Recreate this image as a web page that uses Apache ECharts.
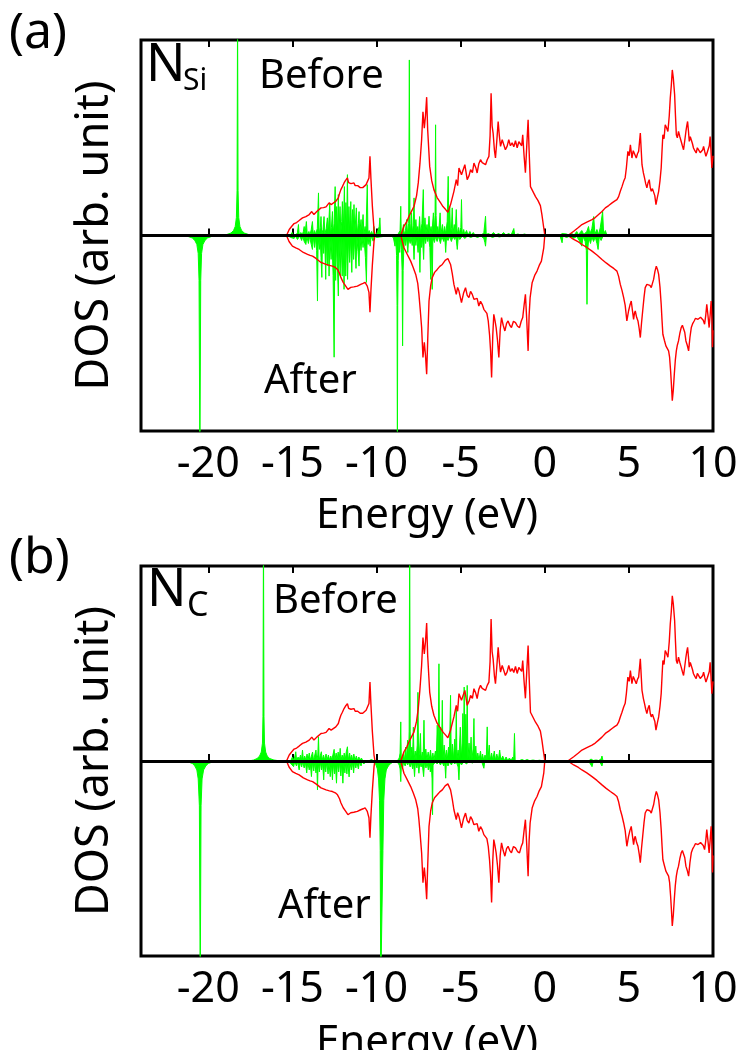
<!DOCTYPE html>
<html>
<head>
<meta charset="utf-8">
<script src="https://cdn.jsdelivr.net/npm/echarts@6/dist/echarts.min.js"></script>
<style>
html,body{margin:0;padding:0;background:#fff;}
#c{width:737px;height:1050px;}
</style>
</head>
<body>
<div id="c"></div>
<script>
// ---------------- DATA ----------------
const xTickValues = [-20, -15, -10, -5, 0, 5, 10];
const xRange = [-24, 10];
const yRange = [-196, 196];

// Host (SiC) DOS, "Before" side (upward), [energy eV, DOS arb.]
const hostBefore = [
[-15.35,0],[-15.19,6],[-15.05,9],[-14.9,12],[-14.75,13],[-14.6,15],[-14.4,17.7],[-14.2,19],[-14.0,21],[-13.85,24],[-13.72,21],[-13.65,22],[-13.55,24],[-13.45,26],[-13.3,27.7],[-13.15,28],[-13.0,28.7],[-12.9,30],[-12.82,32.7],[-12.7,31],[-12.6,33],[-12.42,34.3],[-12.35,36],[-12.27,37.7],[-12.2,42],[-12.12,46],[-12.03,49],[-11.93,52.7],[-11.85,55],[-11.8,56],[-11.73,57.7],[-11.66,53],[-11.6,54.3],[-11.52,52],[-11.45,53.5],[-11.34,52.7],[-11.27,50],[-11.2,52],[-11.12,50],[-11.04,51],[-10.97,48],[-10.9,49.5],[-10.82,48],[-10.74,49.3],[-10.62,51],[-10.55,52.7],[-10.45,57.7],[-10.39,79.3],[-10.33,56],[-10.25,30],[-10.15,6],[-10.09,0],
[-9.0,0],[-8.56,0],[-8.37,9.3],[-8.2,14],[-8.07,19.3],[-7.9,25],[-7.77,29.3],[-7.62,40],[-7.52,52.7],[-7.42,72],[-7.32,96],[-7.24,124],[-7.16,107.7],[-7.09,120],[-7.02,138.7],[-6.96,106],[-6.84,69.3],[-6.72,55],[-6.59,46],[-6.4,38],[-6.19,32.7],[-6.05,29],[-5.89,26],[-5.76,23.3],[-5.6,31],[-5.4,44.3],[-5.26,56],[-5.18,50],[-5.1,67.7],[-4.95,61],[-4.85,66],[-4.75,71],[-4.61,56],[-4.5,60],[-4.41,66],[-4.3,63],[-4.21,72.7],[-4.1,68],[-4.02,62.7],[-3.92,72],[-3.82,76],[-3.72,73],[-3.62,75],[-3.52,71],[-3.42,76],[-3.32,79.3],[-3.25,100],[-3.19,142.7],[-3.13,110],[-3.07,102.7],[-2.99,85],[-2.93,77.7],[-2.85,95],[-2.77,114.3],[-2.7,100],[-2.63,89.3],[-2.53,96],[-2.43,94.3],[-2.34,86],[-2.24,89.3],[-2.14,96],[-2.04,90],[-1.94,93],[-1.84,89],[-1.74,95],[-1.64,88],[-1.54,94],[-1.44,96],[-1.37,90],[-1.31,101],[-1.23,80],[-1.15,63],[-1.07,90],[-0.99,116],[-0.93,85],[-0.85,49],[-0.75,47.7],[-0.55,39],[-0.4,35],[-0.26,30],[-0.17,21],[-0.08,10],[-0.02,3],[0,0],
[1.37,0],[1.72,4.3],[2.0,8],[2.21,11],[2.5,13.5],[2.81,16],[3.0,18],[3.2,21],[3.4,24],[3.6,27.7],[3.8,30],[4.0,32.7],[4.15,34.5],[4.29,36],[4.39,39],[4.49,44.3],[4.59,49],[4.69,54.3],[4.78,58],[4.85,67.7],[4.94,84.3],[5.02,80],[5.09,91],[5.18,77.7],[5.26,85],[5.34,86],[5.44,77.7],[5.51,82],[5.58,84.3],[5.68,102.7],[5.78,71],[5.86,63],[5.93,57.7],[6.0,52],[6.07,47.7],[6.14,53],[6.21,56],[6.27,48],[6.33,44.3],[6.4,47],[6.47,49],[6.54,40],[6.61,31],[6.69,38],[6.77,44.3],[6.85,55],[6.92,67.7],[6.97,85],[7.02,101],[7.09,97],[7.16,111],[7.24,108],[7.32,104.3],[7.4,120],[7.46,137.7],[7.52,150],[7.58,166],[7.64,158],[7.72,141],[7.77,120],[7.82,101],[7.88,98],[7.95,104.3],[8.03,99],[8.11,94.3],[8.18,90],[8.25,86],[8.32,95],[8.39,104.3],[8.44,110],[8.49,114.3],[8.54,105],[8.59,94.3],[8.65,99],[8.71,97.7],[8.78,92],[8.84,87.7],[8.92,85],[9.0,82.7],[9.07,88],[9.14,86],[9.24,83],[9.34,81],[9.39,86],[9.44,89.3],[9.51,84],[9.58,79.3],[9.65,83],[9.73,81],[9.78,90],[9.83,99.3],[9.88,85],[9.93,67.7],[10,80]
];

// Host (SiC) DOS, "After" side (plotted downward)
const hostAfter = [
[-15.35,0],[-15.2,-6],[-15.0,-10.7],[-14.8,-12.5],[-14.6,-14],[-14.35,-17],[-14.1,-19],[-13.95,-20],[-13.8,-20.7],[-13.6,-23],[-13.45,-25],[-13.3,-27],[-13.15,-28],[-13.0,-29],[-12.8,-30],[-12.62,-30.7],[-12.45,-32],[-12.32,-34],[-12.2,-38],[-12.12,-42],[-11.98,-47],[-11.83,-50.7],[-11.7,-54],[-11.63,-55.7],[-11.53,-52],[-11.35,-51.5],[-11.14,-50.7],[-10.94,-49],[-10.8,-48],[-10.68,-47],[-10.55,-50.7],[-10.45,-57],[-10.39,-77],[-10.33,-54],[-10.25,-30],[-10.15,-6],[-10.1,0],
[-9.0,0],[-8.56,0],[-8.37,-12.3],[-8.17,-19],[-7.97,-25.7],[-7.82,-32],[-7.67,-39],[-7.55,-48],[-7.48,-59],[-7.4,-75],[-7.32,-92.3],[-7.24,-122.3],[-7.16,-107],[-7.09,-120],[-7.02,-139],[-6.96,-105.7],[-6.88,-65.7],[-6.78,-50],[-6.69,-42.3],[-6.55,-37],[-6.39,-34],[-6.24,-31],[-6.09,-29],[-5.92,-25],[-5.76,-23],[-5.6,-29],[-5.5,-38],[-5.4,-49],[-5.26,-59],[-5.18,-52],[-5.1,-55.7],[-4.95,-67.3],[-4.83,-58],[-4.71,-52.3],[-4.61,-60],[-4.51,-62.3],[-4.41,-56],[-4.31,-59],[-4.21,-64],[-4.11,-65.7],[-4.02,-63],[-3.92,-70.7],[-3.82,-66],[-3.72,-69],[-3.62,-74],[-3.52,-72.3],[-3.44,-78],[-3.36,-85.7],[-3.28,-100],[-3.22,-115.7],[-3.16,-142.3],[-3.09,-100],[-3.03,-79],[-2.96,-85],[-2.89,-92.3],[-2.81,-105],[-2.73,-122.3],[-2.65,-95],[-2.57,-82.3],[-2.47,-90],[-2.37,-95.7],[-2.27,-88],[-2.18,-85.7],[-2.08,-90],[-1.98,-92.3],[-1.86,-86],[-1.74,-87.3],[-1.62,-91],[-1.5,-92.3],[-1.4,-86],[-1.31,-82.3],[-1.23,-70],[-1.15,-59],[-1.07,-85],[-0.99,-115.7],[-0.93,-80],[-0.87,-62.3],[-0.75,-47.3],[-0.6,-40],[-0.46,-35.7],[-0.33,-30],[-0.2,-25.7],[-0.06,-12.3],[0,0],
[1.37,0],[1.72,-4],[2.0,-6.5],[2.21,-9],[2.5,-12],[2.81,-15.7],[3.1,-19.5],[3.4,-24],[3.65,-27.5],[3.9,-30.7],[4.1,-33],[4.29,-35.7],[4.39,-41],[4.49,-49],[4.59,-55],[4.69,-62.3],[4.78,-70],[4.88,-85.7],[4.98,-75.7],[5.06,-70],[5.14,-65.7],[5.21,-75],[5.28,-84],[5.33,-78],[5.38,-75.7],[5.46,-82],[5.54,-85.7],[5.61,-93],[5.68,-102.3],[5.75,-88],[5.82,-75.7],[5.9,-62],[5.97,-52.3],[6.07,-49],[6.17,-47.3],[6.25,-50],[6.33,-52.3],[6.4,-48],[6.47,-44],[6.55,-36],[6.63,-30.7],[6.7,-34],[6.77,-39],[6.85,-52],[6.92,-69],[6.97,-85],[7.02,-99],[7.11,-105],[7.2,-110.7],[7.28,-112],[7.36,-115.7],[7.42,-122],[7.48,-135.7],[7.53,-150],[7.58,-165.7],[7.64,-155],[7.7,-139],[7.76,-125],[7.82,-115.7],[7.88,-110],[7.95,-105.7],[8.03,-98],[8.11,-92.3],[8.18,-90],[8.25,-89],[8.32,-97],[8.39,-105.7],[8.47,-110],[8.55,-115.7],[8.63,-102],[8.71,-92.3],[8.8,-88],[8.88,-85.7],[8.96,-83],[9.04,-82.3],[9.11,-84],[9.18,-85.7],[9.26,-82],[9.34,-80.7],[9.42,-85],[9.5,-89],[9.57,-80],[9.63,-69],[9.7,-80],[9.77,-92.3],[9.83,-80],[9.89,-65.7],[9.94,-85],[9.97,-112],[10,-95]
];

// N_Si PDOS before (upward)
const nSiBefore = [
[-24,0],[-19.3,0],[-18.9,1],[-18.65,2.5],[-18.5,5],[-18.4,9],[-18.33,18],[-18.29,45],[-18.26,230],[-18.23,45],[-18.19,18],[-18.12,9],[-18.02,5],[-17.86,2.5],[-17.6,1],[-17.2,0],
[-15.3,0],[-15.2,1.5],[-15.12,0.3],[-15.02,3],[-14.95,0.5],[-14.85,2],[-14.78,0.5],[-14.7,3],[-14.64,11],[-14.6,0.5],[-14.5,3],[-14.42,0.5],[-14.35,4],[-14.3,9],[-14.26,0.5],[-14.17,14],[-14.12,1],[-14.02,4],[-13.96,0.5],[-13.88,6],[-13.81,14],[-13.76,1],[-13.68,5],[-13.62,1],[-13.52,7],[-13.45,42.7],[-13.41,1],[-13.34,8],[-13.3,19],[-13.26,1],[-13.18,6],[-13.12,19],[-13.07,1.5],[-12.99,7],[-12.92,17.7],[-12.87,1.5],[-12.78,32.7],[-12.74,2],[-12.68,8],[-12.62,24],[-12.58,2],[-12.52,12],[-12.46,49],[-12.42,2],[-12.37,29],[-12.32,3],[-12.27,41],[-12.23,2],[-12.17,29],[-12.12,3],[-12.07,14],[-12.03,34],[-11.98,2],[-11.91,49],[-11.87,3],[-11.82,33],[-11.78,3],[-11.73,61],[-11.69,2],[-11.64,29],[-11.6,3],[-11.53,34],[-11.49,2],[-11.43,26],[-11.39,2],[-11.34,31],[-11.29,2],[-11.2,27.7],[-11.15,1.5],[-11.08,12],[-11.04,24],[-11.0,1.5],[-10.92,16],[-10.88,1.5],[-10.8,21],[-10.75,1],[-10.68,9],[-10.63,1.5],[-10.55,51],[-10.51,1.5],[-10.44,5],[-10.38,1],[-10.3,4],[-10.22,0.5],[-10.15,9],[-10.1,0.5],[-9.98,2],[-9.9,0.3],[-9.84,9],[-9.8,17.7],[-9.76,0.5],[-9.6,0.3],[-9.45,0],
[-8.9,0],[-8.75,0.5],[-8.65,2],[-8.6,5],[-8.56,29.3],[-8.53,1.5],[-8.45,4],[-8.4,11],[-8.36,1],[-8.28,5],[-8.21,16],[-8.16,1.5],[-8.09,12],[-8.05,176],[-8.01,12],[-7.97,2],[-7.92,22.7],[-7.88,2],[-7.82,10],[-7.77,37.7],[-7.73,2],[-7.66,16],[-7.61,2],[-7.55,9],[-7.5,1.5],[-7.44,19],[-7.39,2],[-7.3,12],[-7.22,46],[-7.18,2],[-7.12,17.7],[-7.07,1.5],[-7.0,11],[-6.95,1.5],[-6.88,19.3],[-6.83,1.5],[-6.76,9],[-6.71,1.5],[-6.62,22.7],[-6.57,3],[-6.52,20],[-6.49,111],[-6.46,20],[-6.42,2],[-6.36,9],[-6.31,1.5],[-6.22,22.7],[-6.17,1.5],[-6.08,11],[-6.03,1.5],[-5.95,9],[-5.89,1.5],[-5.8,14],[-5.74,59.3],[-5.7,4],[-5.65,29],[-5.6,1.5],[-5.55,7],[-5.5,27.7],[-5.46,1.5],[-5.38,11],[-5.33,1.5],[-5.26,26],[-5.21,1],[-5.12,8],[-5.06,1],[-4.99,8],[-4.95,36],[-4.91,1],[-4.82,6],[-4.76,1],[-4.65,5],[-4.56,0.5],[-4.45,4],[-4.36,0.5],[-4.25,3],[-4.15,0.5],[-4.05,2],[-3.95,0.5],[-3.85,2],[-3.75,0.5],[-3.62,3],[-3.56,5],[-3.52,19.3],[-3.48,1],[-3.35,2],[-3.2,0.5],[-3.05,3],[-2.9,0.5],[-2.75,2],[-2.6,0.5],[-2.45,3],[-2.3,0.5],[-2.15,2],[-2.0,0.5],[-1.9,2],[-1.84,7],[-1.79,0.5],[-1.6,1.5],[-1.4,0.5],[-1.2,1.5],[-1.0,0.3],[-0.7,0.8],[-0.4,0],
[0.9,0],[1.03,2],[1.08,0.3],[1.3,1.5],[1.45,0.3],[1.6,2],[1.75,0.5],[1.9,4],[2.0,0.8],[2.2,5],[2.32,1],[2.5,4],[2.6,9],[2.68,1.5],[2.8,7],[2.91,19],[2.98,1.5],[3.1,6],[3.2,1],[3.3,8],[3.44,24],[3.5,1.5],[3.6,5],[3.68,1],[3.75,2],[3.85,0],[10,0]
];

// N_Si PDOS after (downward)
const nSiAfter = [
[-24,0],[-21.6,0],[-21.2,-1],[-20.95,-2.5],[-20.8,-5],[-20.68,-9],[-20.6,-18],[-20.55,-45],[-20.5,-230],[-20.45,-45],[-20.4,-18],[-20.32,-9],[-20.2,-5],[-20.05,-2.5],[-19.8,-1],[-19.4,0],
[-15.3,0],[-15.2,-0.5],[-15.1,-2],[-15.02,-0.5],[-14.9,-3],[-14.82,-0.5],[-14.7,-4],[-14.62,-6],[-14.56,-0.5],[-14.45,-5],[-14.39,-1],[-14.3,-6],[-14.2,-9],[-14.14,-1],[-14.05,-8],[-13.98,-1],[-13.88,-9],[-13.81,-14],[-13.76,-1.5],[-13.68,-12],[-13.63,-1.5],[-13.56,-15],[-13.51,-65.7],[-13.47,-2],[-13.4,-14],[-13.35,-2],[-13.3,-22],[-13.25,-42],[-13.21,-2],[-13.14,-18],[-13.08,-2],[-13.02,-44],[-12.98,-3],[-12.92,-30],[-12.87,-3],[-12.82,-40.7],[-12.77,-3],[-12.7,-24],[-12.65,-3],[-12.58,-40],[-12.52,-122],[-12.48,-4],[-12.43,-45],[-12.38,-4],[-12.32,-34],[-12.27,-60.7],[-12.23,-4],[-12.16,-40],[-12.11,-3],[-12.04,-40.7],[-11.99,-3],[-11.93,-54],[-11.88,-4],[-11.83,-40.7],[-11.78,-3],[-11.72,-44],[-11.67,-3],[-11.6,-27],[-11.55,-2],[-11.47,-37],[-11.42,-2],[-11.36,-24],[-11.31,-2],[-11.22,-33],[-11.17,-1.5],[-11.1,-16],[-11.04,-30.7],[-10.99,-1.5],[-10.92,-15],[-10.87,-1],[-10.8,-12],[-10.75,-1],[-10.66,-22],[-10.6,-47],[-10.56,-1.5],[-10.5,-9],[-10.45,-1],[-10.38,-10.7],[-10.32,-0.5],[-10.2,-5.7],[-10.14,-0.5],[-10.0,-2],[-9.9,0],
[-9.2,0],[-9.1,-0.5],[-9.0,-2],[-8.95,-1],[-8.9,-10.7],[-8.86,-2],[-8.81,-20],[-8.78,-70],[-8.76,-230],[-8.74,-70],[-8.71,-25],[-8.67,-4],[-8.62,-17],[-8.58,-3],[-8.52,-14],[-8.48,-35],[-8.45,-110.7],[-8.42,-35],[-8.38,-14],[-8.33,-2],[-8.27,-10],[-8.21,-1.5],[-8.14,-17],[-8.09,-1.5],[-8.0,-8],[-7.95,-1],[-7.88,-10],[-7.83,-1.5],[-7.77,-24],[-7.72,-1.5],[-7.66,-10],[-7.61,-1],[-7.53,-17],[-7.48,-2],[-7.42,-37],[-7.38,-2],[-7.32,-12],[-7.27,-1],[-7.2,-24],[-7.16,-1.5],[-7.08,-8],[-7.03,-1],[-6.96,-6],[-6.91,-1],[-6.83,-12],[-6.78,-44],[-6.74,-4],[-6.69,-54],[-6.65,-2],[-6.56,-7],[-6.49,-1],[-6.4,-6],[-6.32,-1],[-6.2,-8],[-6.12,-1],[-6.0,-6],[-5.94,-1.5],[-5.89,-17],[-5.84,-1.5],[-5.75,-5],[-5.66,-1],[-5.55,-6],[-5.46,-1],[-5.35,-4],[-5.28,-1],[-5.2,-14],[-5.14,-1],[-5.05,-4],[-4.9,-0.5],[-4.75,-3],[-4.6,-0.5],[-4.4,-2],[-4.2,-0.5],[-4.0,-2],[-3.8,-0.5],[-3.62,-3],[-3.56,-7],[-3.52,-10.7],[-3.47,-0.5],[-3.3,-0.5],[-3.1,-2],[-2.9,-0.5],[-2.7,-1.5],[-2.4,-0.3],[-2.0,-0.8],[-1.5,0],
[0.9,0],[1.03,-7.3],[1.08,-0.5],[1.3,-2],[1.5,-0.5],[1.7,-3],[1.9,-1],[2.05,-5],[2.2,-10.7],[2.28,-1],[2.4,-6],[2.47,-15],[2.51,-69],[2.55,-15],[2.62,-2],[2.72,-8],[2.8,-1.5],[2.9,-6],[3.0,-1.5],[3.1,-8],[3.17,-14],[3.24,-1.5],[3.35,-5],[3.45,-1],[3.55,-3],[3.65,-0.5],[3.8,0],[10,0]
];

// N_C PDOS before (upward)
const nCBefore = [
[-24,0],[-17.6,0],[-17.3,1],[-17.1,2.5],[-16.95,5],[-16.85,9],[-16.78,18],[-16.75,45],[-16.72,230],[-16.69,45],[-16.66,18],[-16.59,9],[-16.5,5],[-16.35,2.5],[-16.1,1],[-15.7,0],
[-15.3,0],[-15.2,1.5],[-15.1,0.3],[-15.0,4],[-14.92,0.5],[-14.85,5],[-14.8,9.3],[-14.75,0.5],[-14.66,4],[-14.6,0.8],[-14.52,6],[-14.46,0.8],[-14.4,11],[-14.35,0.8],[-14.27,5],[-14.2,0.8],[-14.13,7],[-14.07,0.8],[-14.0,8],[-13.94,0.8],[-13.87,5],[-13.8,9],[-13.75,0.8],[-13.67,6],[-13.6,11],[-13.55,0.8],[-13.49,6],[-13.45,24.3],[-13.41,0.8],[-13.35,5],[-13.28,9.3],[-13.23,0.8],[-13.15,6],[-13.09,1],[-13.0,7],[-12.94,1],[-12.86,6],[-12.8,1],[-12.72,5],[-12.66,1],[-12.58,7],[-12.52,11.7],[-12.47,1],[-12.4,8],[-12.34,1],[-12.28,9],[-12.22,1],[-12.16,12.7],[-12.11,1],[-12.04,6],[-11.98,1],[-11.92,8],[-11.86,1],[-11.8,9],[-11.73,14.3],[-11.68,1],[-11.6,8],[-11.54,1],[-11.48,6],[-11.42,0.8],[-11.35,7],[-11.28,0.8],[-11.2,5],[-11.13,0.5],[-11.05,4],[-10.98,0.5],[-10.9,3],[-10.82,0.5],[-10.74,2],[-10.66,0.5],[-10.55,1.5],[-10.45,0.3],[-10.3,1.5],[-10.15,0],
[-8.9,0],[-8.75,0.5],[-8.65,3],[-8.6,8],[-8.56,39.3],[-8.53,2],[-8.46,1],[-8.4,7],[-8.34,1],[-8.27,14],[-8.22,1.5],[-8.15,21],[-8.1,2],[-8.06,30],[-8.03,240],[-8.0,30],[-7.96,2],[-7.9,14],[-7.86,1.5],[-7.81,34],[-7.77,1.5],[-7.7,10],[-7.65,1],[-7.58,16],[-7.54,69],[-7.5,2],[-7.44,10],[-7.39,27.7],[-7.35,1.5],[-7.28,9],[-7.23,1.5],[-7.18,41],[-7.14,1.5],[-7.07,12],[-7.01,1],[-6.93,9],[-6.87,1],[-6.79,11],[-6.73,1],[-6.65,8],[-6.59,1],[-6.5,10],[-6.45,1.5],[-6.39,36],[-6.34,5],[-6.29,97.7],[-6.25,5],[-6.19,34],[-6.14,2],[-6.09,61],[-6.05,2],[-5.98,16],[-5.93,1.5],[-5.85,11],[-5.8,1],[-5.72,14],[-5.67,2],[-5.6,66],[-5.56,2],[-5.49,17],[-5.43,1.5],[-5.35,22],[-5.3,3],[-5.26,52.7],[-5.22,2],[-5.15,11],[-5.1,1.5],[-5.02,34],[-4.97,2],[-4.91,18],[-4.87,47.7],[-4.83,5],[-4.79,74.3],[-4.75,6],[-4.69,47],[-4.65,4],[-4.61,76],[-4.57,2],[-4.5,18],[-4.45,1.5],[-4.38,24],[-4.33,1.5],[-4.26,12],[-4.21,42.7],[-4.17,1],[-4.1,15],[-4.05,1],[-3.98,8],[-3.91,0.8],[-3.82,10],[-3.76,1],[-3.7,7],[-3.63,0.8],[-3.55,6],[-3.48,1],[-3.42,34.3],[-3.38,1],[-3.3,16],[-3.25,0.8],[-3.16,8],[-3.09,0.8],[-3.0,10],[-2.93,0.8],[-2.85,7],[-2.76,0.8],[-2.68,11],[-2.61,0.8],[-2.5,5],[-2.4,0.5],[-2.3,4],[-2.2,0.5],[-2.1,3],[-2.0,0.5],[-1.9,4],[-1.85,1],[-1.8,27.7],[-1.76,0.5],[-1.65,2],[-1.5,0.5],[-1.35,1.5],[-1.2,0.3],[-1.05,1.5],[-0.9,0.3],[-0.7,1],[-0.5,0.3],[-0.3,0.8],[-0.1,0],
[2.6,0],[2.75,2],[2.81,4],[2.88,0.5],[3.05,1],[3.2,0.5],[3.35,2],[3.4,5],[3.46,0.5],[3.6,0],[10,0]
];

// N_C PDOS after (downward)
const nCAfter = [
[-24,0],[-21.6,0],[-21.2,-1],[-20.95,-2.5],[-20.8,-5],[-20.68,-9],[-20.6,-18],[-20.53,-45],[-20.48,-230],[-20.43,-45],[-20.37,-18],[-20.28,-9],[-20.15,-5],[-20.0,-2.5],[-19.75,-1],[-19.4,0],
[-15.3,0],[-15.2,-1],[-15.1,-2.5],[-15.02,-0.5],[-14.93,-5.7],[-14.86,-0.8],[-14.76,-5],[-14.69,-0.8],[-14.6,-9],[-14.53,-1],[-14.45,-6],[-14.39,-1],[-14.3,-7],[-14.23,-1],[-14.15,-12],[-14.09,-1],[-14.0,-9],[-13.94,-1.5],[-13.87,-15.7],[-13.81,-1.5],[-13.73,-10],[-13.67,-1],[-13.6,-12],[-13.55,-2],[-13.51,-29],[-13.47,-1.5],[-13.4,-11],[-13.34,-1],[-13.27,-9],[-13.21,-1],[-13.14,-19],[-13.09,-1.5],[-13.02,-11],[-12.96,-1],[-12.88,-13],[-12.83,-1.5],[-12.75,-15.7],[-12.69,-1.5],[-12.62,-19],[-12.57,-2],[-12.5,-13],[-12.45,-1.5],[-12.38,-22.3],[-12.33,-2],[-12.25,-11],[-12.2,-1],[-12.12,-15],[-12.07,-1.5],[-12.0,-22.3],[-11.95,-2],[-11.88,-12],[-11.83,-1],[-11.76,-13],[-11.71,-1],[-11.63,-16],[-11.58,-1],[-11.5,-9],[-11.44,-0.8],[-11.36,-12],[-11.31,-0.8],[-11.23,-7],[-11.17,-0.8],[-11.08,-8],[-11.01,-0.8],[-10.92,-5],[-10.85,-0.5],[-10.75,-3],[-10.66,-0.5],[-10.55,-1.5],[-10.4,0],
[-10.2,-1],[-10.05,-3],[-9.95,-8],[-9.88,-18],[-9.82,-40],[-9.78,-90],[-9.75,-230],[-9.65,-230],[-9.62,-90],[-9.57,-40],[-9.5,-18],[-9.42,-9],[-9.3,-5],[-9.15,-2.5],[-9.0,-1],
[-8.75,-1.5],[-8.65,-4],[-8.6,-8],[-8.56,-20.7],[-8.52,-2],[-8.45,-7],[-8.39,-1],[-8.3,-5],[-8.23,-1],[-8.15,-4],[-8.09,-1],[-8.0,-6],[-7.94,-1],[-7.85,-8],[-7.8,-1.5],[-7.74,-15.7],[-7.69,-1],[-7.6,-7],[-7.55,-1],[-7.48,-12.3],[-7.43,-1],[-7.35,-6],[-7.29,-1],[-7.2,-15.7],[-7.15,-1],[-7.06,-7],[-7.0,-1],[-6.92,-9],[-6.87,-1.5],[-6.8,-11],[-6.75,-2],[-6.7,-18],[-6.67,-54],[-6.64,-4],[-6.56,-5],[-6.49,-0.8],[-6.4,-3],[-6.31,-0.8],[-6.2,-4],[-6.11,-0.8],[-6.0,-5],[-5.94,-1],[-5.89,-17.3],[-5.85,-1],[-5.75,-5],[-5.66,-0.8],[-5.55,-4],[-5.46,-0.8],[-5.35,-3],[-5.26,-0.8],[-5.15,-6],[-5.1,-19],[-5.06,-1],[-4.95,-4],[-4.82,-0.5],[-4.65,-3],[-4.52,-0.5],[-4.3,-2],[-4.12,-0.5],[-3.9,-1.5],[-3.75,-0.5],[-3.62,-7.3],[-3.57,-0.5],[-3.4,-1.5],[-3.2,-0.3],[-2.9,-1],[-2.6,-0.3],[-2.2,-0.7],[-1.8,0],
[2.6,0],[2.7,-1.5],[2.81,-5.7],[2.88,-0.5],[3.1,-1.5],[3.25,-0.3],[3.35,-2],[3.4,-5],[3.46,-0.3],[3.6,0],[10,0]
];

const panelTags = ['(a)', '(b)'];
const siteMain = ['N', 'N'];
const siteSub = ['Si', 'C'];
const beforeText = 'Before';
const afterText = 'After';
const xAxisTitle = 'Energy (eV)';
const yAxisTitle = 'DOS (arb. unit)';

// ---------------- CHART ----------------
const FONT = '"Noto Sans", "Open Sans", sans-serif';
const chart = echarts.init(document.getElementById('c'), null, {renderer: 'canvas'});

const grids = [
  {left: 141, top: 40, width: 572, height: 391},
  {left: 141, top: 566, width: 572, height: 390}
];
const labelMargins = [12, 12];
const nameGaps = [64, 66];

const xAxes = [], yAxes = [];
grids.forEach((g, i) => {
  xAxes.push({
    gridIndex: i, type: 'value', position: 'bottom', min: xRange[0], max: xRange[1],
    axisLine: {show: false},
    axisTick: {show: true, inside: true, length: 7, customValues: xTickValues, lineStyle: {color: '#000', width: 2}},
    axisLabel: {show: true, customValues: xTickValues, margin: labelMargins[i], color: '#000', fontSize: 43, fontFamily: FONT, hideOverlap: false},
    splitLine: {show: false},
    name: xAxisTitle, nameLocation: 'middle', nameGap: nameGaps[i],
    nameTextStyle: {color: '#000', fontSize: 42, fontFamily: FONT}
  });
  xAxes.push({
    gridIndex: i, type: 'value', position: 'top', min: xRange[0], max: xRange[1],
    axisLine: {show: false},
    axisTick: {show: true, inside: true, length: 7, customValues: xTickValues, lineStyle: {color: '#000', width: 2}},
    axisLabel: {show: false}, splitLine: {show: false}
  });
  yAxes.push({
    gridIndex: i, type: 'value', min: yRange[0], max: yRange[1],
    axisLine: {show: false}, axisTick: {show: false}, axisLabel: {show: false}, splitLine: {show: false},
    name: yAxisTitle, nameLocation: 'middle', nameGap: 23, nameRotate: 90,
    nameTextStyle: {color: '#000', fontSize: 45, fontFamily: FONT}
  });
});

const panels = [
  {green: [nSiBefore, nSiAfter]},
  {green: [nCBefore, nCAfter]}
];

const series = [];
panels.forEach((p, i) => {
  p.green.forEach((d) => {
    series.push({
      type: 'line', xAxisIndex: 2 * i, yAxisIndex: i, data: d,
      showSymbol: false, symbol: 'none', smooth: false, z: 2,
      lineStyle: {color: '#00ff00', width: 1},
      areaStyle: {color: '#00ff00', opacity: 1, origin: 0},
      silent: true
    });
  });
  [hostBefore, hostAfter].forEach((d) => {
    series.push({
      type: 'line', xAxisIndex: 2 * i, yAxisIndex: i, data: d,
      showSymbol: false, symbol: 'none', smooth: false, z: 3,
      lineStyle: {color: '#ff0000', width: 1.4},
      silent: true
    });
  });
  series.push({
    type: 'line', xAxisIndex: 2 * i, yAxisIndex: i, data: [], z: 4, silent: true,
    markLine: {
      silent: true, symbol: 'none', animation: false,
      label: {show: false},
      lineStyle: {color: '#000', width: 3, type: 'solid'},
      data: [{yAxis: 0}]
    }
  });
});

const textEl = (txt, x, y, size) => ({
  type: 'text', x: x, y: y, z: 100,
  style: {text: txt, fill: '#000', fontSize: size, fontFamily: FONT, align: 'left', verticalAlign: 'middle'}
});

const graphic = [
  textEl(panelTags[0], 9, 34, 50),
  textEl(panelTags[1], 9, 559, 50),
  textEl(siteMain[0], 146, 66.5, 52),
  textEl(siteSub[0], 183, 81.7, 30),
  textEl(beforeText, 259, 76.2, 40),
  textEl(afterText, 264, 381.2, 40),
  textEl(siteMain[1], 147, 591.5, 52),
  textEl(siteSub[1], 187, 606, 34),
  textEl(beforeText, 273, 601.2, 40),
  textEl(afterText, 278, 906.2, 40)
];

chart.setOption({
  animation: false,
  backgroundColor: '#fff',
  grid: grids.map(g => Object.assign({show: true, borderColor: '#000', borderWidth: 3, backgroundColor: 'transparent', containLabel: false, outerBoundsMode: 'none'}, g)),
  xAxis: xAxes,
  yAxis: yAxes,
  series: series,
  graphic: graphic
});
</script>
</body>
</html>
